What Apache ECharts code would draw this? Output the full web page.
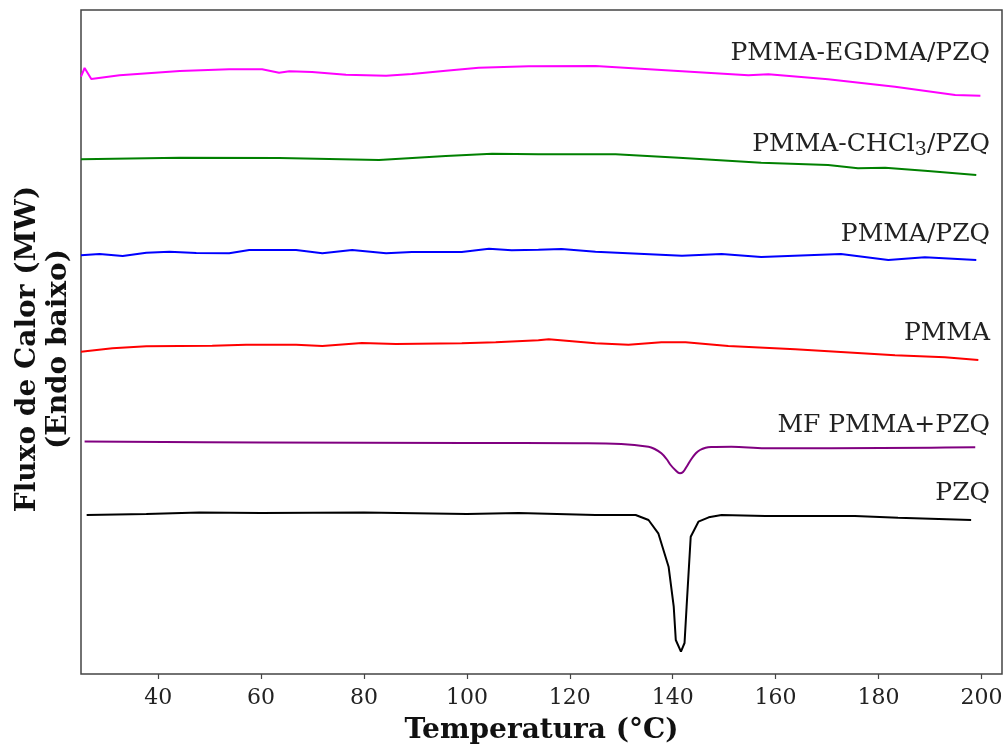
<!DOCTYPE html>
<html>
<head>
<meta charset="utf-8">
<script src="https://cdn.jsdelivr.net/npm/echarts@6/dist/echarts.min.js"></script>
<style>
html,body{margin:0;padding:0;background:#fff;}
#c{width:1008px;height:747px;}
</style>
</head>
<body>
<div id="c"></div>
<script>
// Temperature ticks (°C)
const xTicks = [40, 60, 80, 100, 120, 140, 160, 180, 200];

// Series names (labels drawn at right); rich-text markup for the subscript
const seriesNames = ['PMMA-EGDMA/PZQ', 'PMMA-CHCl3/PZQ', 'PMMA/PZQ', 'PMMA', 'MF PMMA+PZQ', 'PZQ'];
const labelTexts = ['{a|PMMA-EGDMA/PZQ}', '{a|PMMA-CHCl}{s|3}{a|/PZQ}', '{a|PMMA/PZQ}', '{a|PMMA}', '{a|MF PMMA+PZQ}', '{a|PZQ}'];

// Heat flow curves, [temperature °C, offset heat flow (a.u.)]
const pmmaEgdmaPzq = [
  [25.0, 59.73], [25.7, 60.6], [27.0, 59.5], [32.5, 59.87], [44.2, 60.3], [53.8, 60.47],
  [60.2, 60.47], [63.5, 60.13], [65.5, 60.27], [69.9, 60.2], [76.5, 59.93], [84.3, 59.83],
  [89.3, 60.0], [95.9, 60.33], [102.3, 60.63], [112.0, 60.77], [125.0, 60.8], [137.8, 60.4],
  [154.7, 59.87], [158.6, 59.97], [170.2, 59.47], [183.2, 58.73], [194.9, 57.9], [199.8, 57.83]
];
const pmmaChcl3Pzq = [
  [25.0, 51.47], [44.2, 51.63], [63.5, 51.6], [82.9, 51.4], [95.9, 51.8], [104.9, 52.03],
  [113.9, 51.97], [128.9, 51.97], [141.2, 51.63], [157.2, 51.13], [170.2, 50.9], [176.0, 50.57],
  [181.3, 50.63], [189.6, 50.3], [199.0, 49.9]
];
const pmmaPzq = [
  [25.0, 41.87], [28.6, 42.0], [33.1, 41.8], [37.7, 42.13], [42.2, 42.23], [47.4, 42.1],
  [53.8, 42.07], [57.7, 42.4], [66.8, 42.4], [71.9, 42.07], [77.7, 42.4], [84.3, 42.07],
  [89.3, 42.2], [99.0, 42.2], [104.3, 42.53], [108.7, 42.37], [113.9, 42.43], [118.4, 42.5],
  [125.0, 42.23], [141.8, 41.83], [149.5, 42.0], [157.2, 41.7], [172.7, 42.0], [181.9, 41.4],
  [189.0, 41.67], [199.0, 41.4]
];
const pmma = [
  [25.0, 32.23], [31.1, 32.57], [37.7, 32.77], [50.5, 32.83], [57.1, 32.93], [66.8, 32.93],
  [71.9, 32.8], [79.6, 33.1], [86.2, 33.0], [99.0, 33.07], [105.6, 33.17], [113.9, 33.37],
  [115.9, 33.47], [125.0, 33.07], [131.4, 32.93], [137.8, 33.17], [142.5, 33.17], [150.8, 32.8],
  [163.8, 32.47], [183.2, 31.87], [192.9, 31.67], [199.4, 31.4]
];
const mfPmmaPzq = [
  [25.7, 23.25], [60.0, 23.15], [100.0, 23.1], [121.7, 23.07], [130.0, 23.0], [135.3, 22.73],
  [136.5, 22.5], [137.8, 22.07], [138.8, 21.5], [139.6, 20.9], [140.5, 20.4], [141.4, 20.07],
  [142.0, 20.2], [142.7, 20.73], [143.5, 21.4], [144.5, 22.07], [145.3, 22.4], [146.4, 22.63],
  [147.5, 22.7], [151.4, 22.73], [158.0, 22.57], [170.8, 22.57], [190.2, 22.63], [198.8, 22.67]
];
const pzq = [
  [26.1, 15.9], [37.7, 16.0], [48.0, 16.15], [60.0, 16.1], [80.0, 16.15], [100.0, 16.0],
  [110.0, 16.1], [125.0, 15.9], [132.8, 15.9], [135.3, 15.4], [137.2, 14.07], [139.2, 10.73],
  [140.2, 6.73], [140.6, 3.4], [141.6, 2.23], [142.3, 3.1], [142.7, 6.73], [143.5, 13.73],
  [145.0, 15.23], [147.0, 15.67], [149.5, 15.9], [158.0, 15.8], [175.4, 15.8], [183.8, 15.63],
  [198.0, 15.4]
];

const curves = [pmmaEgdmaPzq, pmmaChcl3Pzq, pmmaPzq, pmma, mfPmmaPzq, pzq];
const colors = ['#ff00ff', '#008000', '#0000ff', '#ff0000', '#800080', '#000000'];
const labelY = [51.5, 143, 233, 332, 424, 492];

const chart = echarts.init(document.getElementById('c'), null, {renderer: 'canvas'});
const serif = "'DejaVu Serif', serif";

chart.setOption({
  backgroundColor: '#ffffff',
  animation: false,
  grid: {left: 81, right: 6, top: 10, bottom: 73, show: true, borderColor: '#444', borderWidth: 1.5,
    containLabel: false, outerBoundsMode: 'none'},
  xAxis: {
    type: 'value', min: 25, max: 204,
    axisLine: {show: false},
    axisTick: {show: true, inside: false, length: 5, lineStyle: {color: '#444', width: 1.2},
      customValues: xTicks},
    axisLabel: {fontFamily: serif, fontSize: 22, color: '#222', margin: 13, customValues: xTicks},
    splitLine: {show: false},
    name: 'Temperatura (°C)', nameLocation: 'middle', nameGap: 43,
    nameTextStyle: {fontFamily: serif, fontSize: 28, fontWeight: 'bold', color: '#111'}
  },
  yAxis: {
    type: 'value', min: 0, max: 66.4,
    axisLine: {show: false}, axisTick: {show: false}, axisLabel: {show: false}, splitLine: {show: false},
    name: 'Fluxo de Calor (MW)\n(Endo baixo)', nameLocation: 'middle', nameGap: 7, nameRotate: 90,
    nameTextStyle: {fontFamily: serif, fontSize: 28, fontWeight: 'bold', color: '#111', lineHeight: 31,
      align: 'center', padding: [0, 14, 0, 0]}
  },
  series: curves.map((d, i) => ({
    type: 'line', name: seriesNames[i], data: d, showSymbol: false, symbol: 'none',
    smooth: i === 4 ? 0.4 : false,
    lineStyle: {color: colors[i], width: 2}
  })),
  graphic: labelTexts.map((t, i) => ({
    type: 'text', right: 18, top: labelY[i] - 11,
    style: {
      text: t, fill: '#222', textAlign: 'right',
      rich: {
        a: {fontFamily: serif, fontSize: 25, color: '#222', lineHeight: 30, verticalAlign: 'middle'},
        s: {fontFamily: serif, fontSize: 19, color: '#222', lineHeight: 19, verticalAlign: 'bottom'}
      }
    }
  }))
});
</script>
</body>
</html>
